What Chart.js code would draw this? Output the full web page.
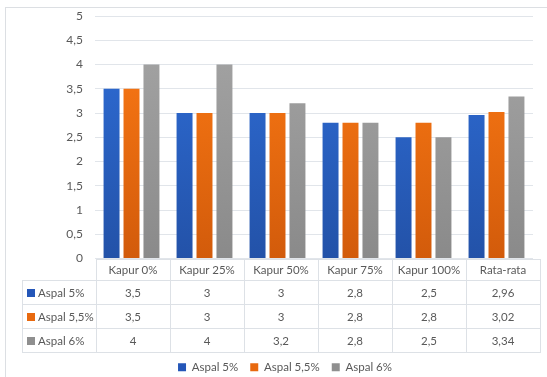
<!DOCTYPE html>
<html>
<head>
<meta charset="utf-8">
<script src="https://cdn.jsdelivr.net/npm/chart.js@4"></script>
<style>
    body { margin: 0; background: #fff; font-family: Lato, "Open Sans", sans-serif; }
    #wrap { position: relative; width: 547px; height: 377px; overflow: hidden; }
    #frame { position: absolute; left: 5px; top: 7px; width: 560px; height: 400px; border: 1px solid #dcdfe3; box-sizing: border-box; }
    #chart-box { position: absolute; left: 0; top: 0; width: 547px; height: 377px; }
    #data-table { position: absolute; border-collapse: collapse; font-size: 11.5px; color: #595959; }
    #data-table td { border: 1px solid #dde1e6; text-align: center; padding: 0; white-space: nowrap; }
    #data-table td.blank { border: none; }
    #data-table td.rowhead { text-align: left; padding-left: 4px; }
    .sw { display: inline-block; width: 8px; height: 8px; margin-right: 3px; vertical-align: 0px; }
</style>
</head>
<body>
<div id="wrap">
    <div id="frame"></div>
    <div id="chart-box"><canvas id="chart"></canvas></div>
    <table id="data-table"></table>
</div>
<script>
// Data
const categories = ['Kapur 0%', 'Kapur 25%', 'Kapur 50%', 'Kapur 75%', 'Kapur 100%', 'Rata-rata'];
const seriesNames = ['Aspal 5%', 'Aspal 5,5%', 'Aspal 6%'];
const aspal5 = [3.5, 3, 3, 2.8, 2.5, 2.96];
const aspal55 = [3.5, 3, 3, 2.8, 2.8, 3.02];
const aspal6 = [4, 4, 3.2, 2.8, 2.5, 3.34];
const yTicks = [0, 0.5, 1, 1.5, 2, 2.5, 3, 3.5, 4, 4.5, 5];

// Colours (top, bottom of gradient) and legend swatch colours
const gradColors = [
    ['#2f6fda', '#2352a8'],
    ['#ff7c15', '#d25b0b'],
    ['#a6a6a6', '#8a8a8a']
];
const swatchColors = ['#2456b8', '#e8690f', '#8f8f8f'];
const textColor = '#595959';

// Format number with a comma as decimal separator
function fmt(v) {
    return String(v).replace('.', ',');
}

// Vertical gradient over the chart area
function barGradient(idx) {
    return function (context) {
        const area = context.chart.chartArea;
        if (!area) return gradColors[idx][0];
        const g = context.chart.ctx.createLinearGradient(0, area.top, 0, area.bottom);
        g.addColorStop(0, gradColors[idx][0]);
        g.addColorStop(1, gradColors[idx][1]);
        return g;
    };
}

const seriesData = [aspal5, aspal55, aspal6];

const chart = new Chart(document.getElementById('chart').getContext('2d'), {
    type: 'bar',
    data: {
        labels: categories,
        datasets: seriesData.map((d, i) => ({
            label: seriesNames[i],
            data: d,
            backgroundColor: barGradient(i),
            barPercentage: 0.8,
            categoryPercentage: 0.82
        }))
    },
    options: {
        responsive: true,
        maintainAspectRatio: false,
        animation: false,
        layout: { padding: { left: 37, right: 14, top: 16, bottom: -6 } },
        plugins: {
            tooltip: { enabled: false },
            legend: {
                position: 'bottom',
                labels: {
                    color: textColor,
                    font: { family: 'Lato', size: 11.5 },
                    boxWidth: 8,
                    boxHeight: 8,
                    padding: 12,
                    generateLabels: chart => seriesNames.map((name, i) => ({
                        text: name,
                        fillStyle: swatchColors[i],
                        strokeStyle: swatchColors[i],
                        lineWidth: 0,
                        fontColor: textColor,
                        datasetIndex: i
                    }))
                }
            }
        },
        scales: {
            x: {
                grid: { display: false },
                border: { display: false },
                ticks: { display: false },
                afterFit: scale => { scale.height = 91; }
            },
            y: {
                min: 0,
                max: 5,
                afterBuildTicks: scale => { scale.ticks = yTicks.map(v => ({ value: v })); },
                afterFit: scale => {
                    scale.width = 58;
                    scale.paddingTop = 4;
                    scale.paddingBottom = 4;
                },
                grid: { color: '#e1e5ea', drawTicks: false },
                border: { display: false },
                ticks: {
                    color: textColor,
                    font: { family: 'Lato', size: 12 },
                    padding: 12,
                    callback: v => fmt(v)
                }
            }
        }
    }
});

// Build the data table under the plot, aligned with the x scale
function buildTable() {
    const table = document.getElementById('data-table');
    const area = chart.chartArea;
    const colW = (area.right - area.left) / categories.length;
    const headW = 73;
    let html = '<tr style="height:21px"><td class="blank" style="width:' + headW + 'px"></td>';
    categories.forEach(c => {
        html += '<td style="width:' + colW + 'px">' + c + '</td>';
    });
    html += '</tr>';
    seriesData.forEach((d, i) => {
        html += '<tr style="height:24px"><td class="rowhead"><span class="sw" style="background:' +
            swatchColors[i] + '"></span>' + seriesNames[i] + '</td>';
        d.forEach(v => { html += '<td>' + fmt(v) + '</td>'; });
        html += '</tr>';
    });
    table.innerHTML = html;
    table.style.left = (area.left - headW) + 'px';
    table.style.top = area.bottom + 'px';
}

buildTable();
</script>
</body>
</html>
